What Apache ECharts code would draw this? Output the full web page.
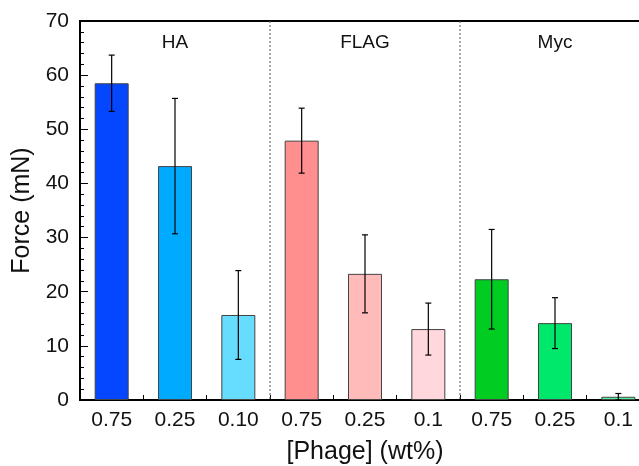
<!DOCTYPE html>
<html>
<head>
<meta charset="utf-8">
<script src="https://cdn.jsdelivr.net/npm/echarts@6/dist/echarts.min.js"></script>
<style>
  html, body { margin: 0; padding: 0; background: #fff; }
  #main { width: 639px; height: 466px; }
</style>
</head>
<body>
<div id="main"></div>
<script>
// categories (unique keys) and the tick labels shown under them
var categories = ['HA-0.75', 'HA-0.25', 'HA-0.10', 'FLAG-0.75', 'FLAG-0.25', 'FLAG-0.1', 'Myc-0.75', 'Myc-0.25', 'Myc-0.1'];
var tickLabels = ['0.75', '0.25', '0.10', '0.75', '0.25', '0.1', '0.75', '0.25', '0.1'];
var forceValues = [58.5, 43.2, 15.7, 47.9, 23.3, 13.1, 22.3, 14.2, 0.6];
var errorValues = [5.2, 12.5, 8.2, 6.0, 7.2, 4.8, 9.2, 4.7, 0.6];
var barColors = ['#0547ff', '#00aaff', '#66ddff', '#ff8e8e', '#ffbaba', '#ffd7dc', '#00cc22', '#00e86b', '#55ee99'];
var groupNames = ['HA', 'FLAG', 'Myc'];
var groupCenters = [1, 4, 7];     // category index under each group name
var separatorAfter = [2, 5];      // dotted line after these categories
var yTicks = { min: 0, max: 70, interval: 10 };

var chart = echarts.init(document.getElementById('main'));
var font = 'Liberation Sans, Arial, Helvetica, sans-serif';

var barData = forceValues.map(function (v, i) {
    return { value: v, itemStyle: { color: barColors[i] } };
});
var errData = forceValues.map(function (v, i) {
    return [i, v - errorValues[i], v + errorValues[i]];
});
var labelData = groupNames.map(function (n, i) { return [groupCenters[i], 66, n]; });
var sepData = separatorAfter.map(function (i) { return [i, 0]; });

var option = {
    animation: false,
    textStyle: { fontFamily: font },
    grid: {
        left: 80, top: 21, width: 570, height: 379,
        containLabel: false, outerBoundsMode: 'none',
        show: true, borderColor: '#000', borderWidth: 2, backgroundColor: 'transparent'
    },
    xAxis: {
        type: 'category',
        data: categories,
        name: '[Phage] (wt%)',
        nameLocation: 'middle',
        nameGap: 40,
        nameTextStyle: { fontSize: 25, color: '#111', fontFamily: font },
        axisLine: { lineStyle: { color: '#000', width: 2 } },
        axisTick: { show: true, inside: true, length: 5, lineStyle: { color: '#000', width: 1 } },
        axisLabel: {
            margin: 10, fontSize: 21, color: '#111', fontFamily: font,
            formatter: function (v, i) { return tickLabels[i]; }
        },
        splitLine: { show: false }
    },
    yAxis: {
        type: 'value',
        min: yTicks.min, max: yTicks.max, interval: yTicks.interval,
        name: 'Force (mN)',
        nameLocation: 'middle',
        nameGap: 45,
        nameTextStyle: { fontSize: 25, color: '#111', fontFamily: font },
        axisLine: { show: true, lineStyle: { color: '#000', width: 2 } },
        axisTick: { show: true, inside: true, length: 8, lineStyle: { color: '#000', width: 1 } },
        minorTick: { show: true, splitNumber: 5, length: 4, lineStyle: { color: '#000', width: 1 } },
        axisLabel: { margin: 11, fontSize: 21, color: '#111', fontFamily: font },
        splitLine: { show: false }
    },
    series: [
        {
            type: 'bar',
            data: barData,
            barWidth: 34,
            itemStyle: { borderColor: '#444', borderWidth: 1 },
            z: 2
        },
        {
            // error bars
            type: 'custom',
            data: errData,
            encode: { x: 0, y: [1, 2] },
            z: 3,
            renderItem: function (params, api) {
                var idx = api.value(0);
                var lo = api.coord([idx, api.value(1)]);
                var hi = api.coord([idx, api.value(2)]);
                var cap = 3;
                var style = { stroke: '#000', lineWidth: 1.2 };
                return {
                    type: 'group',
                    children: [
                        { type: 'line', shape: { x1: lo[0], y1: lo[1], x2: hi[0], y2: hi[1] }, style: style },
                        { type: 'line', shape: { x1: hi[0] - cap, y1: hi[1], x2: hi[0] + cap, y2: hi[1] }, style: style },
                        { type: 'line', shape: { x1: lo[0] - cap, y1: lo[1], x2: lo[0] + cap, y2: lo[1] }, style: style }
                    ]
                };
            }
        },
        {
            // dotted group separators
            type: 'custom',
            data: sepData,
            encode: { x: 0, y: 1 },
            z: 1,
            renderItem: function (params, api) {
                var idx = api.value(0);
                var half = api.size([1, 0])[0] / 2;
                var bottom = api.coord([idx, yTicks.min]);
                var top = api.coord([idx, yTicks.max]);
                var x = bottom[0] + half;
                return {
                    type: 'line',
                    shape: { x1: x, y1: top[1], x2: x, y2: bottom[1] },
                    style: { stroke: '#555', lineWidth: 1, lineDash: [2, 2] }
                };
            }
        },
        {
            // group names
            type: 'custom',
            data: labelData,
            encode: { x: 0, y: 1 },
            z: 4,
            renderItem: function (params, api) {
                var p = api.coord([api.value(0), api.value(1)]);
                return {
                    type: 'text',
                    x: p[0], y: p[1],
                    style: {
                        text: groupNames[params.dataIndex],
                        fontSize: 19, fontFamily: font, fill: '#111',
                        align: 'center', verticalAlign: 'middle'
                    }
                };
            }
        }
    ]
};
chart.setOption(option);
</script>
</body>
</html>
